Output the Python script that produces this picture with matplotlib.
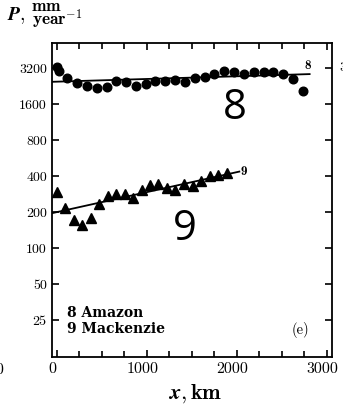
import numpy as np
import matplotlib
matplotlib.use("Agg")
import matplotlib.pyplot as plt
import matplotlib.transforms as mtransforms

# Amazon (8) - circles
amazon_x = [0, 30, 115, 226, 333, 444, 555, 660, 771, 882, 994, 1096, 1204, 1316,
            1422, 1533, 1644, 1753, 1864, 1974, 2085, 2193, 2301, 2408, 2519, 2630, 2734]
amazon_p = [3250, 3050, 2654, 2414, 2275, 2163, 2207, 2490, 2457, 2263, 2351, 2490, 2490, 2540,
            2457, 2654, 2707, 2851, 3020, 2945, 2851, 2945, 2945, 2945, 2851, 2573, 2067]
amazon_fit_x = [-55, 2811]
amazon_fit_p = [2457, 2851]

# Mackenzie (9) - triangles
mack_x = [4, 97, 197, 282, 382, 474, 567, 660, 756, 852, 948, 1038, 1130, 1227,
          1319, 1419, 1511, 1604, 1705, 1797, 1889]
mack_p = [293, 215, 171, 156, 179, 232, 275, 284, 284, 263, 308, 340, 343, 318,
          306, 343, 329, 367, 398, 411, 429]
mack_fit_x = [-55, 2030]
mack_fit_p = [196, 437]

yticks = [25, 50, 100, 200, 400, 800, 1600, 3200]
xticks = [0, 1000, 2000, 3000]

plt.rcParams['mathtext.fontset'] = 'cm'
plt.rcParams['font.family'] = 'cmr10'
plt.rcParams['axes.formatter.use_mathtext'] = True

fig = plt.figure(figsize=(3.43, 4.11), dpi=100)
ax = fig.add_axes([0.1507, 0.131, 0.816, 0.764])

ax.plot(amazon_x, amazon_p, 'o', color='black', markersize=6.2)
ax.plot(amazon_fit_x, amazon_fit_p, '-', color='black', lw=1.3)
ax.plot(mack_x, mack_p, '^', color='black', markersize=7)
ax.plot(mack_fit_x, mack_fit_p, '-', color='black', lw=1.3)

ax.set_yscale('log', base=2)
ax.set_ylim(12.3, 5170)
ax.set_xlim(-55, 3055)
ax.set_yticks(yticks)
ax.set_yticklabels([str(v) for v in yticks])
ax.minorticks_off()
ax.set_xticks(xticks)
ax.set_xticklabels([str(v) for v in xticks])
ax.set_xticks(np.arange(0, 3001, 250), minor=True)
ax.tick_params(which='both', direction='in', top=True, right=True,
               width=1.2, color='black')
ax.tick_params(axis='y', labelsize=10)
ax.tick_params(axis='x', labelsize=11.5)
ax.tick_params(which='major', length=5)
ax.tick_params(which='minor', length=4)
for s in ax.spines.values():
    s.set_linewidth(1.3)

shift = mtransforms.ScaledTranslation(-0.04, 0, fig.dpi_scale_trans)
for lab in ax.get_xticklabels():
    lab.set_transform(lab.get_transform() + shift)

ax.text(2790, 3300, '8', fontfamily='cmb10', fontsize=9.5, ha='center', va='center')
ax.text(2075, 437, '9', fontfamily='cmb10', fontsize=9.5, ha='center', va='center')

ax.text(1975, 1480, '8', fontfamily='Open Sans', fontsize=30, ha='center', va='center')
ax.text(1420, 145, '9', fontfamily='Open Sans', fontsize=30, ha='center', va='center')

ax.text(0.055, 0.115, '8 Amazon\n9 Mackenzie', transform=ax.transAxes,
        fontfamily='DejaVu Serif', fontweight='bold',
        fontsize=10, ha='left', va='center', linespacing=1.15)
ax.text(0.89, 0.085, '(e)', transform=ax.transAxes, fontsize=10.5, ha='center', va='center')

# y label: P, mm / year^-1 stacked (no fraction bar)
fig.text(0.02, 0.951, r'$\mathbfit{P},$', fontsize=14, ha='left', va='baseline')
fig.text(0.135, 0.973, r'$\mathbf{mm}$', fontsize=12.5, ha='center', va='baseline')
fig.text(0.094, 0.937, r'$\mathbf{year}^{-1}$', fontsize=12.5, ha='left', va='baseline')

fig.text(0.57, 0.043, r'$\mathbfit{x},\mathbf{km}$', fontsize=16, ha='center', va='center')

# fragments of neighbouring panels
fig.text(0.012, 0.1, '3000', fontsize=11.5, ha='right', va='center')
fig.text(0.988, 0.835, '3200', fontsize=10, ha='left', va='center')

fig.savefig('out.png', dpi=100)
